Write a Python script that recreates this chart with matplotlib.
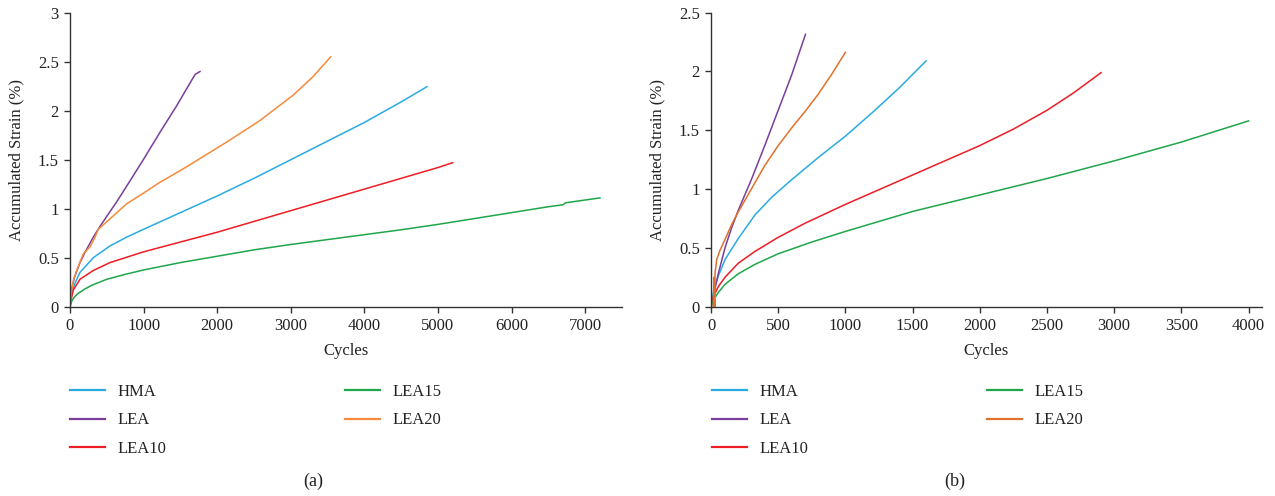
import matplotlib
matplotlib.use("Agg")
import matplotlib.pyplot as plt
from matplotlib.lines import Line2D

plt.rcParams['font.family'] = ['Liberation Serif', 'DejaVu Serif']

# ---------------- data: panel (a) ----------------
a_hma_x = [0, 20, 68, 136, 317, 543, 770, 1000, 1500, 2000, 2500, 3000, 3500, 4000, 4500, 4850]
a_hma_y = [0, 0.12, 0.24, 0.35, 0.5, 0.62, 0.71, 0.79, 0.96, 1.13, 1.31, 1.5, 1.69, 1.88, 2.09, 2.245]
a_lea_x = [0, 20, 60, 136, 200, 317, 408, 498, 634, 770, 996, 1223, 1449, 1676, 1700, 1766]
a_lea_y = [0, 0.17, 0.3, 0.45, 0.55, 0.71, 0.82, 0.92, 1.07, 1.23, 1.5, 1.78, 2.05, 2.34, 2.37, 2.40]
a_lea10_x = [0, 20, 45, 136, 317, 543, 1000, 1500, 2000, 2500, 3000, 3500, 4000, 4500, 5000, 5200]
a_lea10_y = [0, 0.09, 0.17, 0.28, 0.37, 0.45, 0.56, 0.66, 0.76, 0.87, 0.98, 1.09, 1.2, 1.31, 1.42, 1.47]
a_lea15_x = [0, 20, 50, 100, 200, 300, 500, 750, 1000, 1500, 2000, 2500, 3000, 3500, 4000, 4500, 5000, 5500, 6000, 6500, 6700, 6730, 7200]
a_lea15_y = [0, 0.05, 0.09, 0.13, 0.18, 0.22, 0.28, 0.33, 0.375, 0.45, 0.515, 0.58, 0.635, 0.685, 0.735, 0.785, 0.84, 0.90, 0.96, 1.02, 1.04, 1.06, 1.11]
a_lea20_x = [0, 20, 50, 91, 181, 272, 340, 385, 430, 770, 1000, 1223, 1500, 1676, 2000, 2129, 2500, 2581, 3034, 3306, 3542]
a_lea20_y = [0, 0.16, 0.28, 0.37, 0.54, 0.61, 0.71, 0.79, 0.82, 1.05, 1.16, 1.27, 1.39, 1.47, 1.62, 1.68, 1.86, 1.90, 2.16, 2.35, 2.55]

# ---------------- data: panel (b) ----------------
b_hma_x = [0, 20, 54, 104, 203, 327, 451, 600, 800, 1000, 1200, 1400, 1600]
b_hma_y = [0, 0.14, 0.26, 0.4, 0.58, 0.78, 0.93, 1.08, 1.27, 1.45, 1.65, 1.86, 2.09]
b_lea_x = [0, 20, 54, 104, 150, 203, 300, 400, 500, 600, 703]
b_lea_y = [0, 0.1, 0.28, 0.5, 0.66, 0.82, 1.08, 1.37, 1.67, 1.97, 2.316]
b_lea10_x = [0, 20, 54, 104, 203, 327, 500, 700, 1000, 1500, 2000, 2250, 2500, 2700, 2902]
b_lea10_y = [0, 0.09, 0.17, 0.25, 0.37, 0.47, 0.59, 0.71, 0.87, 1.12, 1.37, 1.51, 1.67, 1.82, 1.99]
b_lea15_x = [0, 20, 54, 104, 203, 327, 500, 750, 1000, 1500, 2000, 2500, 3000, 3500, 4000]
b_lea15_y = [0, 0.06, 0.12, 0.19, 0.28, 0.36, 0.45, 0.55, 0.64, 0.81, 0.95, 1.09, 1.24, 1.40, 1.58]
b_lea20_x = [17, 22, 28, 30, 42, 67, 100, 150, 200, 300, 400, 500, 600, 700, 800, 900, 1000]
b_lea20_y = [0, 0.25, 0, 0.28, 0.40, 0.48, 0.56, 0.69, 0.80, 1.0, 1.2, 1.37, 1.52, 1.66, 1.81, 1.98, 2.163]

labels = ['HMA', 'LEA', 'LEA10', 'LEA15', 'LEA20']
colors_a = ['#29ABE2', '#7A3E9D', '#EE1C25', '#1FA64A', '#F68A3C']
colors_b = ['#29ABE2', '#7A3E9D', '#EE1C25', '#1FA64A', '#E0712A']

a_ticks_x = [0, 1000, 2000, 3000, 4000, 5000, 6000, 7000]
a_ticks_y = [0, 0.5, 1, 1.5, 2, 2.5, 3]
b_ticks_x = [0, 500, 1000, 1500, 2000, 2500, 3000, 3500, 4000]
b_ticks_y = [0, 0.5, 1, 1.5, 2, 2.5]

W, H = 1275, 496
fig = plt.figure(figsize=(W / 100, H / 100), dpi=100)

axA = fig.add_axes([70 / W, 1 - 306.7 / H, 552 / W, 294 / H])
axB = fig.add_axes([711 / W, 1 - 306.7 / H, 551 / W, 294 / H])

axis_col = '#333333'
text_col = '#222222'
panels = [
    (axA, [(a_hma_x, a_hma_y), (a_lea_x, a_lea_y), (a_lea10_x, a_lea10_y), (a_lea15_x, a_lea15_y), (a_lea20_x, a_lea20_y)],
     colors_a, (0, 7500), (0, 3), a_ticks_x, a_ticks_y, 70, 345, '(a)', 313),
    (axB, [(b_hma_x, b_hma_y), (b_lea_x, b_lea_y), (b_lea10_x, b_lea10_y), (b_lea15_x, b_lea15_y), (b_lea20_x, b_lea20_y)],
     colors_b, (0, 4100), (0, 2.5), b_ticks_x, b_ticks_y, 712, 987, '(b)', 955),
]

for ax, series, cols, xl, yl, xt, yt, lx1, lx2, cap, capx in panels:
    for (x, y), c, lab in zip(series, cols, labels):
        ax.plot(x, y, color=c, lw=1.1, label=lab, solid_joinstyle='round')
    ax.set_xlim(*xl)
    ax.set_ylim(*yl)
    ax.set_xticks(xt)
    ax.set_yticks(yt)
    ax.set_xticklabels([str(v) for v in xt])
    ax.set_yticklabels([('%g' % v) for v in yt])
    for s in ['top', 'right']:
        ax.spines[s].set_visible(False)
    for s in ['left', 'bottom']:
        ax.spines[s].set_color(axis_col)
        ax.spines[s].set_linewidth(1.0)
    ax.tick_params(direction='out', length=4, width=1, colors=axis_col, labelsize=12, pad=4)
    for t in ax.get_xticklabels() + ax.get_yticklabels():
        t.set_color(text_col)
    ax.set_xlabel('Cycles', fontsize=12, color=text_col)
    ax.set_ylabel('Accumulated Strain (%)', fontsize=12, color=text_col)
    ax.xaxis.set_label_coords(0.5, -0.123)
    ax.yaxis.set_label_coords(-0.082, 0.5)

    handles = [Line2D([0], [0], color=c, lw=1.6) for c in cols]
    kw = dict(loc='upper left', frameon=False, fontsize=12, handlelength=2.1,
              handletextpad=0.75, borderpad=0, borderaxespad=0, labelspacing=0.75)
    leg1 = fig.legend(handles[:3], labels[:3], bbox_to_anchor=(lx1 / W, 1 - 384 / H), **kw)
    leg2 = fig.legend(handles[3:], labels[3:], bbox_to_anchor=(lx2 / W, 1 - 384 / H), **kw)
    for lg in (leg1, leg2):
        for t in lg.get_texts():
            t.set_color(text_col)
    fig.text(capx / W, 1 - 481 / H, cap, ha='center', va='center', fontsize=13, color=text_col)

fig.savefig('out.png', dpi=100)
